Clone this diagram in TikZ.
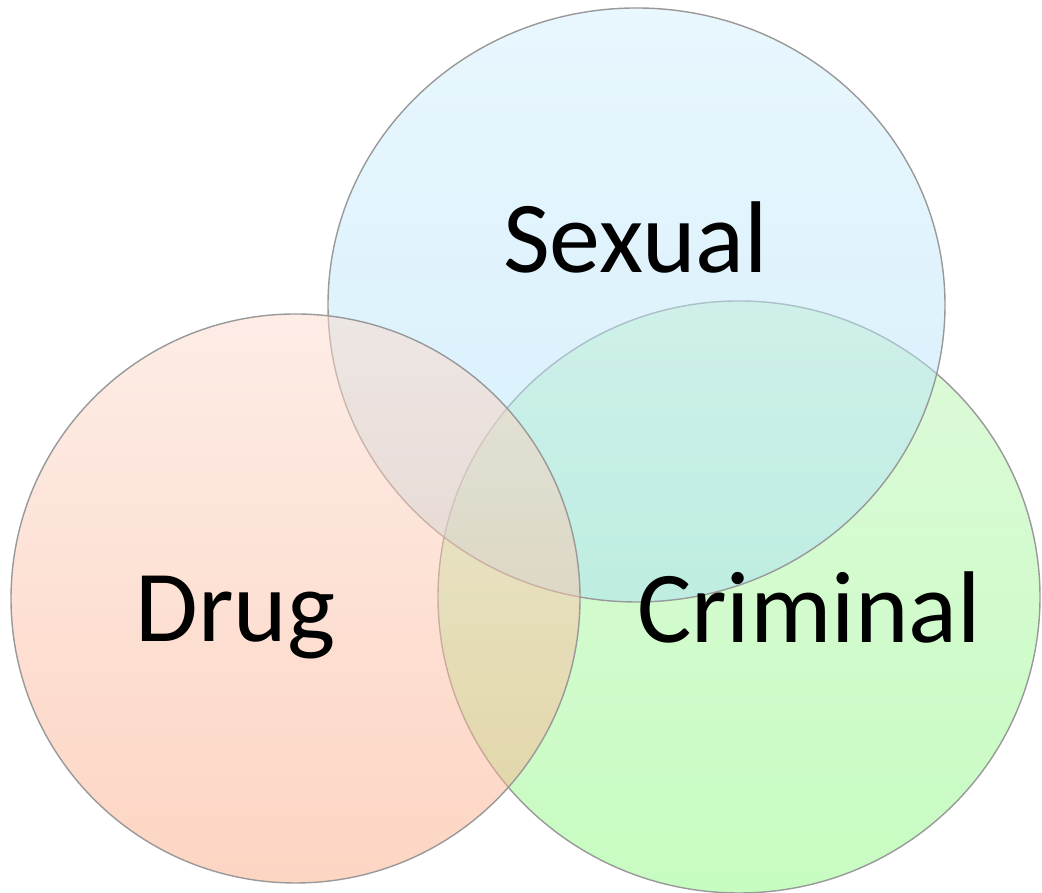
\documentclass[tikz,border=0pt]{standalone}
\usepackage{fontspec}
\setmainfont{Carlito}
\usepackage{tikz}
\usetikzlibrary{positioning}

\definecolor{sexTop}{RGB}{211,239,253}
\definecolor{sexBot}{RGB}{171,223,247}
\definecolor{drugTop}{RGB}{251,219,205}
\definecolor{drugBot}{RGB}{251,171,135}
\definecolor{crimTop}{RGB}{189,245,181}
\definecolor{crimBot}{RGB}{143,249,131}

\tikzset{
  setcircle/.style={fill opacity=0.5, draw=black!40, line width=0.4pt},
  setlabel/.style={anchor=base, text opacity=1, font=\fontsize{29}{35}\selectfont}
}

\begin{document}
\begin{tikzpicture}
  \useasboundingbox (0,0) rectangle (10.42,8.93);
  % the three sets
  \shadedraw [setcircle, top color=crimTop, bottom color=crimBot] (7.39,2.96) ellipse [x radius=3.01, y radius=2.96];
  \shadedraw [setcircle, top color=sexTop, bottom color=sexBot] (6.365,5.88) ellipse [x radius=3.085, y radius=2.97];
  \shadedraw [setcircle, top color=drugTop, bottom color=drugBot] (2.955,2.945) circle [radius=2.845];
  % labels
  \node (sexual) at (6.355,6.20) [setlabel] {Sexual};
  \node (drug) at (2.355,2.51) [setlabel] {Drug};
  \node (criminal) at (8.09,2.50) [setlabel] {Criminal};
\end{tikzpicture}
\end{document}
